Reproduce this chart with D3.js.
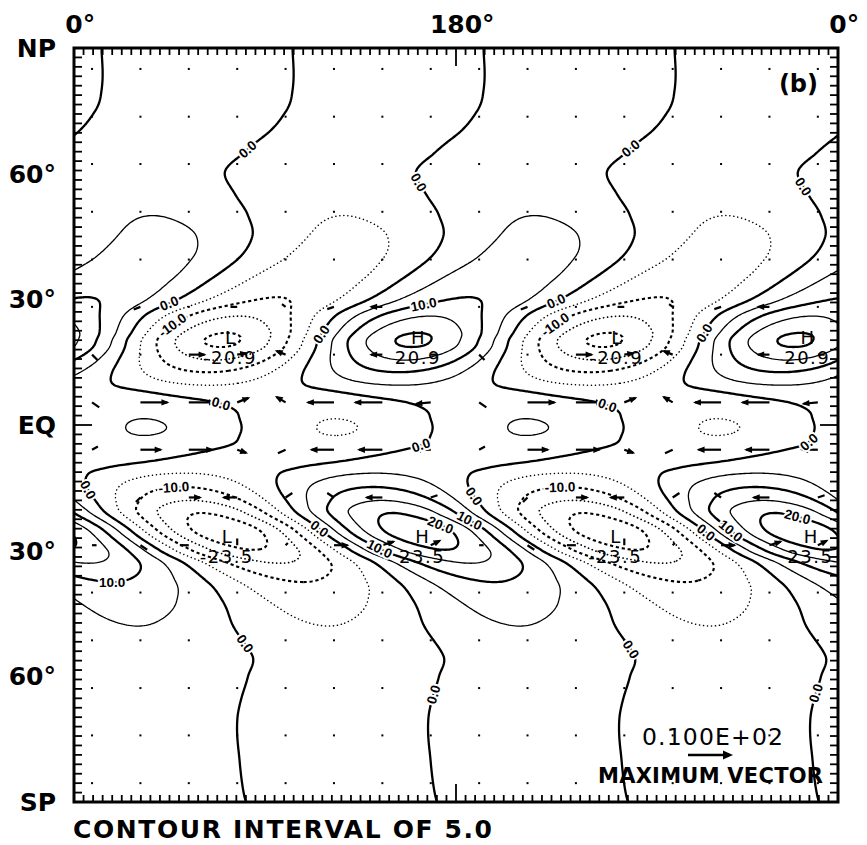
<!DOCTYPE html>
<html>
<head>
<meta charset="utf-8">
<script src="https://cdn.jsdelivr.net/npm/d3@7"></script>
<style>
  body { margin: 0; background: #fff; }
  svg { display: block; }
  text { font-family: "DejaVu Sans", sans-serif; fill: #000; }
  text.clabel { font-family: "Liberation Sans", Arial, sans-serif; }
</style>
</head>
<body>
<div id="chart"></div>
<script>
// Wave-2 field: amplitude and longitude of the trough (L) per latitude
const lats      = [90, 80, 75, 70, 65, 60, 55, 50, 45, 40, 35, 30, 26, 22, 20.4, 18.6, 15.5, 12.6, 9.5, 7.5, 5.5, 3.5, 1.5, -0.6, -2.5, -4.5, -6.5, -8.5, -10, -11.5, -14.8, -18, -21, -25.3, -29.8, -33, -37.5, -42, -48, -55, -60, -65, -70, -80, -90];
const amplitude = [0.4, 0.8, 1.1, 1.5, 2.1, 2.9, 3.9, 5.0, 6.3, 7.2, 8.4, 10.3, 15.0, 20.0, 20.9, 20.0, 15.0, 10.0, 5.0, 3.6, 3.4, 4.2, 5.0, 5.3, 5.0, 4.1, 3.4, 3.3, 3.9, 5.0, 10.0, 15.0, 20.0, 23.5, 20.0, 15.0, 10.0, 7.3, 5.0, 3.6, 2.8, 2.1, 1.5, 0.8, 0.4];
const troughLon = [148, 148, 145, 137, 125, 116, 121, 127, 129, 123, 110, 94, 78, 72, 70, 69, 66, 63, 64, 85, 111, 121, 123, 124, 123, 120, 105, 83, 62, 52, 51, 55, 60, 72, 85, 97, 108, 115, 120, 129, 127, 124, 122, 123, 126];

const levels = [-20, -15, -10, -5, 0, 5, 10, 15, 20];

// highs and lows with their printed values
const extremes = [
  { mark: 'L', lon: 73.5, lat: 20.8, value: '-20.9' },
  { mark: 'H', lon: 162, lat: 20.8, value: '20.9' },
  { mark: 'L', lon: 255.5, lat: 20.8, value: '-20.9' },
  { mark: 'H', lon: 345.5, lat: 20.8, value: '20.9' },
  { mark: 'L', lon: 72, lat: -26.7, value: '-23.5' },
  { mark: 'H', lon: 164, lat: -26.7, value: '23.5' },
  { mark: 'L', lon: 255, lat: -26.7, value: '-23.5' },
  { mark: 'H', lon: 347, lat: -26.7, value: '23.5' }
];

// contour labels (approximate spot, snapped onto the line)
const contourLabels = [
  { level: 0, lon: 80.6, lat: 66.5 }, { level: 0, lon: 162, lat: 57.8 },
  { level: 0, lon: 261, lat: 66.8 }, { level: 0, lon: 345, lat: 57.3 },
  { level: 0, lon: 44.8, lat: 29.1 }, { level: 0, lon: 117, lat: 21.5 },
  { level: 0, lon: 227.6, lat: 29 }, { level: 0, lon: 299.7, lat: 21 },
  { level: 0, lon: 67.9, lat: 3.6 }, { level: 0, lon: 163.5, lat: -4.8 },
  { level: 0, lon: 251, lat: 4.3 }, { level: 0, lon: 347, lat: -4.8 },
  { level: 0, lon: 4.7, lat: -16.2 }, { level: 0, lon: 114.5, lat: -25.5 },
  { level: 0, lon: 188, lat: -17.2 }, { level: 0, lon: 298, lat: -25.5 },
  { level: 0, lon: 79.6, lat: -52.5 }, { level: 0, lon: 262, lat: -53.7 },
  { level: 0, lon: 170.6, lat: -64.5 }, { level: 0, lon: 354, lat: -64.5 },
  { level: -10, lon: 45.7, lat: 24.3 }, { level: -10, lon: 227.6, lat: 23.4 },
  { level: 10, lon: 165, lat: 28 },
  { level: -10, lon: 47, lat: -15 }, { level: -10, lon: 229, lat: -15.3 },
  { level: 20, lon: 172, lat: -24.6 }, { level: 20, lon: 340.7, lat: -22.4 },
  { level: 10, lon: 143.7, lat: -29.8 }, { level: 10, lon: 310.6, lat: -24.6 },
  { level: 10, lon: 18, lat: -37.5 }, { level: 10, lon: 185.7, lat: -23.4 }
];

// wind vectors: grid positions and (u, v) for one 8-column longitude period
const vecLons = [8.5, 31.3, 54.1, 76.9, 99.7, 122.5, 145.3, 168.1, 190.9, 213.7, 236.5, 259.3, 282.1, 304.9, 327.7, 350.5];
const vecLats = [85, 73.6, 62.3, 50.9, 39.5, 28.2, 16.8, 5.4, -5.9, -17.3, -28.7, -40, -51.4, -62.8, -74.1, -85.5];
const vecU = [
  [0, 0, 0, 0, 0, 0, 0, 0], [0, 0, 0, 0, 0, 0, 0, 0], [0, 0, 0, 0, 0, 0, 0, 0],
  [0, 0, 0, 0, 0, 0, 0, 0], [0, 0, 0, 0, 0, 0, 0, 0],
  [0, -1.5, 0, -1.5, -0.8, -1.5, -2.5, 0],
  [1.2, 0, 3.5, 2, -2, 0, -2.5, 1.5],
  [1.6, 6, 5.8, 2.5, -2, -5.8, -6, -3.2],
  [1.3, 4.5, 5.2, 2, -1.7, -5, -5.2, -3.5],
  [0, -1, 2.5, -3, 1.5, -1.5, -3.5, 1.5],
  [1, 1.5, -2, 0, 0.5, 3, 2.5, 2],
  [0, 0, 0, 0, 0, 0, 0, 0], [0, 0, 0, 0, 0, 0, 0, 0], [0, 0, 0, 0, 0, 0, 0, 0],
  [0, 0, 0, 0, 0, 0, 0, 0], [0, 0, 0, 0, 0, 0, 0, 0]
];
const vecV = [
  [0, 0, 0, 0, 0, 0, 0, 0], [0, 0, 0, 0, 0, 0, 0, 0], [0, 0, 0, 0, 0, 0, 0, 0],
  [0, 0, 0, 0, 0, 0, 0, 0], [0, 0, 0, 0, 0, 0, 0, 0],
  [0, -0.6, 0, 0, 0.6, -0.5, 0, 0],
  [-1.2, 0, 0, 0.3, 0.8, 0, 0, 0],
  [-1.1, 0, 0, 1.0, 1.2, 0, 0, -0.3],
  [0.7, 0, 0, -0.7, -0.8, 0, 0, 0],
  [0, -1, 0, 0, 1, 1, 0, 0.5],
  [0, -1, 0, 1.5, 0.5, 0, 0.8, 1],
  [0, 0, 0, 0, 0, 0, 0, 0], [0, 0, 0, 0, 0, 0, 0, 0], [0, 0, 0, 0, 0, 0, 0, 0],
  [0, 0, 0, 0, 0, 0, 0, 0], [0, 0, 0, 0, 0, 0, 0, 0]
];
const maxVector = 10;

const lonLabels = [{ lon: 0, label: '0' }, { lon: 180, label: '180' }, { lon: 360, label: '0' }];
const latLabels = [
  { lat: 90, label: 'NP' }, { lat: 60, label: '60°' }, { lat: 30, label: '30°' },
  { lat: 0, label: 'EQ' }, { lat: -30, label: '30°' }, { lat: -60, label: '60°' },
  { lat: -90, label: 'SP' }
];

const W = 867, H = 845;
const x = d3.scaleLinear().domain([0, 360]).range([74, 838]);
const y = d3.scaleLinear().domain([90, -90]).range([48, 802]);
const rad = Math.PI / 180;

const svg = d3.select('#chart').append('svg').attr('width', W).attr('height', H);
svg.append('defs').append('clipPath').attr('id', 'plot')
  .append('rect')
  .attr('x', x(0)).attr('y', y(90))
  .attr('width', x(360) - x(0)).attr('height', y(-90) - y(90));

// cubic Hermite through the tabulated latitudes (lats descending)
function hermite(xs, ys) {
  const n = xs.length;
  const m = ys.map((v, i) => {
    if (i === 0) return (ys[1] - ys[0]) / (xs[1] - xs[0]);
    if (i === n - 1) return (ys[n - 1] - ys[n - 2]) / (xs[n - 1] - xs[n - 2]);
    return (ys[i + 1] - ys[i - 1]) / (xs[i + 1] - xs[i - 1]);
  });
  return t => {
    let i = 0;
    while (i < n - 2 && t < xs[i + 1]) i++;
    const h = xs[i + 1] - xs[i];
    const s = (t - xs[i]) / h, s2 = s * s, s3 = s2 * s;
    return (2 * s3 - 3 * s2 + 1) * ys[i] + (s3 - 2 * s2 + s) * h * m[i] +
      (-2 * s3 + 3 * s2) * ys[i + 1] + (s3 - s2) * h * m[i + 1];
  };
}

const coefA = lats.map((_, i) => -amplitude[i] * Math.cos(2 * troughLon[i] * rad));
const coefB = lats.map((_, i) => -amplitude[i] * Math.sin(2 * troughLon[i] * rad));
const sa = hermite(lats, coefA);
const sb = hermite(lats, coefB);
const field = (lon, lat) => sa(lat) * Math.cos(2 * lon * rad) + sb(lat) * Math.sin(2 * lon * rad);

// sample on a fine grid for d3.contours
const dLon = 1, dLat = 0.5;
const nx = 361, ny = 361;
const values = new Float64Array(nx * ny);
for (let j = 0; j < ny; j++) {
  const lat = 90 - j * dLat;
  const a = sa(lat), b = sb(lat);
  for (let i = 0; i < nx; i++) {
    const l = 2 * i * dLon * rad;
    values[j * nx + i] = a * Math.cos(l) + b * Math.sin(l);
  }
}
const contours = d3.contours().size([nx, ny]).thresholds(levels)(values);
const gridProj = d3.geoTransform({
  point(px, py) { this.stream.point(x((px - 0.5) * dLon), y(90 - (py - 0.5) * dLat)); }
});
const path = d3.geoPath(gridProj);

function lineStyle(v) {
  if (v >= 0) return { w: v % 10 === 0 ? 2.3 : 1.3, dash: null, cap: 'butt' };
  if (v % 10 === 0) return { w: 2.1, dash: '3.2,2.8', cap: 'butt' };
  return { w: v === -15 ? 1.7 : 1.5, dash: '0.1,3.9', cap: 'round' };
}

const plot = svg.append('g').attr('clip-path', 'url(#plot)');

// grid of wind vectors (dots where the vector is tiny)
const vecScale = 4.5;
const vecG = plot.append('g');
vecLats.forEach((lat, j) => {
  vecLons.forEach((lon, i) => {
    const u = vecU[j][i % 8], v = vecV[j][i % 8];
    const x0 = x(lon), y0 = y(lat);
    const dx = u * vecScale, dy = -v * vecScale;
    const len = Math.hypot(dx, dy);
    if (len < 2) {
      vecG.append('rect').attr('x', x0 - 1).attr('y', y0 - 1).attr('width', 2).attr('height', 2);
      return;
    }
    vecG.append('line')
      .attr('x1', x0).attr('y1', y0).attr('x2', x0 + dx).attr('y2', y0 + dy)
      .attr('stroke', '#000').attr('stroke-width', 2.2);
    if (len > 9) {
      const ux = dx / len, uy = dy / len;
      const tx = x0 + dx, ty = y0 + dy;
      vecG.append('path')
        .attr('d', `M${tx + ux * 2},${ty + uy * 2}L${tx - ux * 6 - uy * 3.2},${ty - uy * 6 + ux * 3.2}L${tx - ux * 6 + uy * 3.2},${ty - uy * 6 - ux * 3.2}Z`)
        .attr('fill', '#000');
    }
  });
});

plot.append('g').selectAll('path.contour')
  .data(contours)
  .join('path')
  .attr('class', 'contour')
  .attr('d', path)
  .attr('fill', 'none')
  .attr('stroke', '#000')
  .attr('stroke-width', d => lineStyle(d.value).w)
  .attr('stroke-dasharray', d => lineStyle(d.value).dash)
  .attr('stroke-linecap', d => lineStyle(d.value).cap)
  .attr('stroke-linejoin', 'round');

// snap a label onto its contour and align it with the line
const fpx = (px, py) => field(x.invert(px), y.invert(py));
function placeLabel(d) {
  let px = x(d.lon), py = y(d.lat);
  let gx = 0, gy = 0;
  for (let k = 0; k < 25; k++) {
    const f = fpx(px, py) - d.level;
    gx = fpx(px + 0.5, py) - fpx(px - 0.5, py);
    gy = fpx(px, py + 0.5) - fpx(px, py - 0.5);
    const g2 = gx * gx + gy * gy;
    if (g2 < 1e-12) break;
    let sx = f * gx / g2, sy = f * gy / g2;
    const l = Math.hypot(sx, sy);
    if (l > 3) { sx *= 3 / l; sy *= 3 / l; }
    px -= sx; py -= sy;
    if (Math.abs(f) < 1e-4) break;
  }
  let ang = Math.atan2(gx, -gy) / rad;
  if (ang > 90) ang -= 180;
  if (ang < -90) ang += 180;
  return { px, py, ang };
}

plot.append('g').selectAll('text.clabel')
  .data(contourLabels.map(d => Object.assign({}, d, placeLabel(d))))
  .join('text')
  .attr('class', 'clabel')
  .attr('transform', d => `translate(${d.px},${d.py}) rotate(${d.ang})`)
  .attr('text-anchor', 'middle')
  .attr('dy', '0.35em')
  .attr('font-size', 13.5)
  .attr('font-weight', 'bold')
  .attr('stroke', '#fff')
  .attr('stroke-width', 4)
  .attr('paint-order', 'stroke')
  .text(d => d.level.toFixed(1));

// H / L markers with extreme values
const extG = plot.append('g').attr('font-size', 18);
extG.selectAll('text.mark')
  .data(extremes)
  .join('text')
  .attr('class', 'mark')
  .attr('x', d => x(d.lon))
  .attr('y', d => y(d.lat))
  .attr('dy', '0.36em')
  .attr('text-anchor', 'middle')
  .text(d => d.mark);
extG.selectAll('text.val')
  .data(extremes)
  .join('text')
  .attr('class', 'val')
  .attr('x', d => x(d.lon))
  .attr('y', d => y(d.lat) + 20)
  .attr('dy', '0.36em')
  .attr('text-anchor', 'middle')
  .attr('letter-spacing', 1.5)
  .text(d => d.value);

// frame and ticks
const tickG = svg.append('g').attr('stroke', '#000').attr('stroke-width', 1.8);
d3.range(0, 360.01, 4.5).forEach(lon => {
  const len = lon === 180 ? 18 : 7;
  tickG.append('line').attr('x1', x(lon)).attr('x2', x(lon)).attr('y1', y(90)).attr('y2', y(90) + len);
  tickG.append('line').attr('x1', x(lon)).attr('x2', x(lon)).attr('y1', y(-90)).attr('y2', y(-90) - len);
});
d3.range(-90, 90.01, 2.25).forEach(lat => {
  const len = (lat % 30 === 0 && Math.abs(lat) < 90) ? 18 : 8;
  tickG.append('line').attr('x1', x(0)).attr('x2', x(0) + len).attr('y1', y(lat)).attr('y2', y(lat));
  tickG.append('line').attr('x1', x(360)).attr('x2', x(360) - len).attr('y1', y(lat)).attr('y2', y(lat));
});
svg.append('rect')
  .attr('x', x(0)).attr('y', y(90))
  .attr('width', x(360) - x(0)).attr('height', y(-90) - y(90))
  .attr('fill', 'none').attr('stroke', '#000').attr('stroke-width', 3);

// axis labels
const axisFont = { size: 25, weight: 'bold' };
lonLabels.forEach(d => {
  const t = svg.append('text')
    .attr('y', 33)
    .attr('font-size', axisFont.size).attr('font-weight', axisFont.weight)
    .text(d.label);
  const w = t.node().getComputedTextLength();
  t.attr('x', x(d.lon) - w / 2).append('tspan').text('°');
});
svg.append('g').selectAll('text')
  .data(latLabels)
  .join('text')
  .attr('x', 56)
  .attr('y', d => y(d.lat))
  .attr('dy', '0.36em')
  .attr('text-anchor', 'end')
  .attr('font-size', axisFont.size).attr('font-weight', axisFont.weight)
  .text(d => d.label);

svg.append('text')
  .attr('x', 818).attr('y', 92)
  .attr('text-anchor', 'end')
  .attr('font-size', 24).attr('font-weight', 'bold')
  .text('(b)');

svg.append('text')
  .attr('x', 73).attr('y', 838)
  .attr('font-size', 25).attr('font-weight', 'bold')
  .attr('textLength', 419).attr('lengthAdjust', 'spacing')
  .text('CONTOUR INTERVAL OF 5.0');

// maximum vector legend
svg.append('text')
  .attr('x', 642).attr('y', 745)
  .attr('font-size', 23.5)
  .attr('textLength', 141).attr('lengthAdjust', 'spacing')
  .text('0.100E+02');
const lx = 688, ly = 755, llen = maxVector * vecScale;
svg.append('line')
  .attr('x1', lx).attr('y1', ly).attr('x2', lx + llen - 4).attr('y2', ly)
  .attr('stroke', '#000').attr('stroke-width', 2.6);
svg.append('path')
  .attr('d', `M${lx + llen},${ly}L${lx + llen - 10},${ly - 4.5}L${lx + llen - 10},${ly + 4.5}Z`)
  .attr('fill', '#000');
svg.append('text')
  .attr('x', 598).attr('y', 783)
  .attr('font-size', 21).attr('font-weight', 'bold')
  .attr('textLength', 225).attr('lengthAdjust', 'spacing')
  .text('MAXIMUM VECTOR');
</script>
</body>
</html>
